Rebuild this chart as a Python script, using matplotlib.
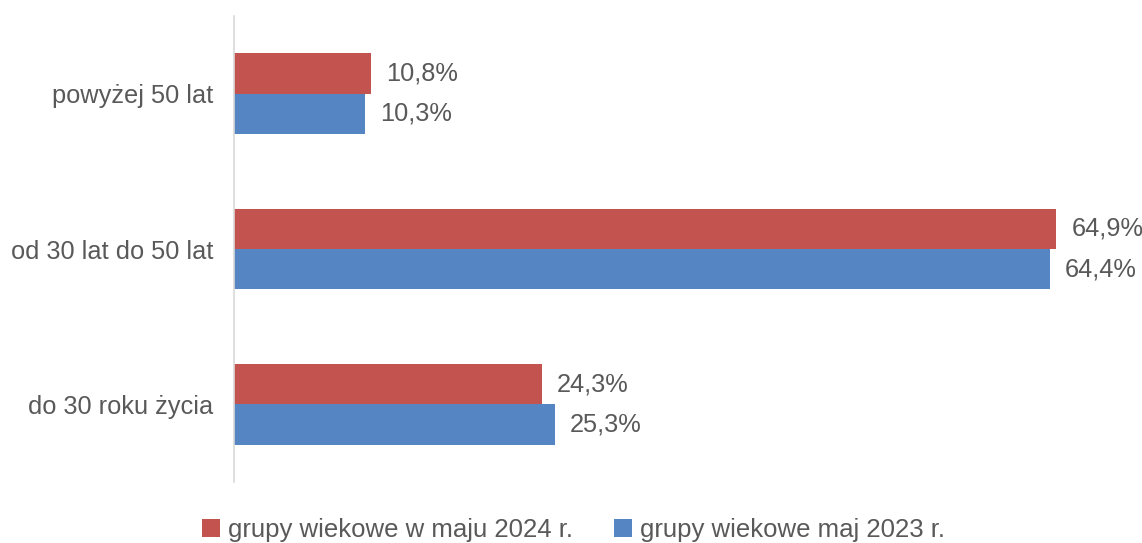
import matplotlib.pyplot as plt
import numpy as np

# data
categories = ['do 30 roku życia', 'od 30 lat do 50 lat', 'powyżej 50 lat']
vals2024 = [24.3, 64.9, 10.8]
vals2023 = [25.3, 64.4, 10.3]
series_names = ['grupy wiekowe w maju 2024 r.', 'grupy wiekowe maj 2023 r.']

red = '#C3534F'
blue = '#5585C2'
grey = '#595959'

plt.rcParams['font.family'] = ['Liberation Sans', 'DejaVu Sans']

fig = plt.figure(figsize=(11.42, 5.43), dpi=100)
ax = fig.add_axes([0.2049, 0.1123, 0.7767, 0.8582])

y = np.arange(len(categories))
h = 0.26
b1 = ax.barh(y + h / 2, vals2024, height=h, color=red, label=series_names[0])
b2 = ax.barh(y - h / 2, vals2023, height=h, color=blue, label=series_names[1])

for bars, vals in ((b1, vals2024), (b2, vals2023)):
    for bar, v in zip(bars, vals):
        ax.text(v + 1.2, bar.get_y() + bar.get_height() / 2,
                ('%.1f%%' % v).replace('.', ','),
                va='center', ha='left', fontsize=18.3, color=grey)

ax.set_xlim(0, 70)
ax.set_ylim(-0.5, len(categories) - 0.5)
ax.set_yticks(y)
ax.set_yticklabels(categories, fontsize=18.3, color=grey)
ax.tick_params(axis='y', length=0, pad=15)
ax.set_xticks([])
for s in ['top', 'right', 'bottom']:
    ax.spines[s].set_visible(False)
ax.spines['left'].set_color('#D9D9D9')
ax.spines['left'].set_linewidth(1.2)

fig.legend(handles=[b1, b2], loc='lower center', bbox_to_anchor=(0.502, -0.04),
           ncol=2, frameon=False, fontsize=18.5, labelcolor=grey,
           handlelength=0.7, handleheight=0.7, handletextpad=0.3,
           columnspacing=1.6)

fig.savefig('out.png', dpi=100)
